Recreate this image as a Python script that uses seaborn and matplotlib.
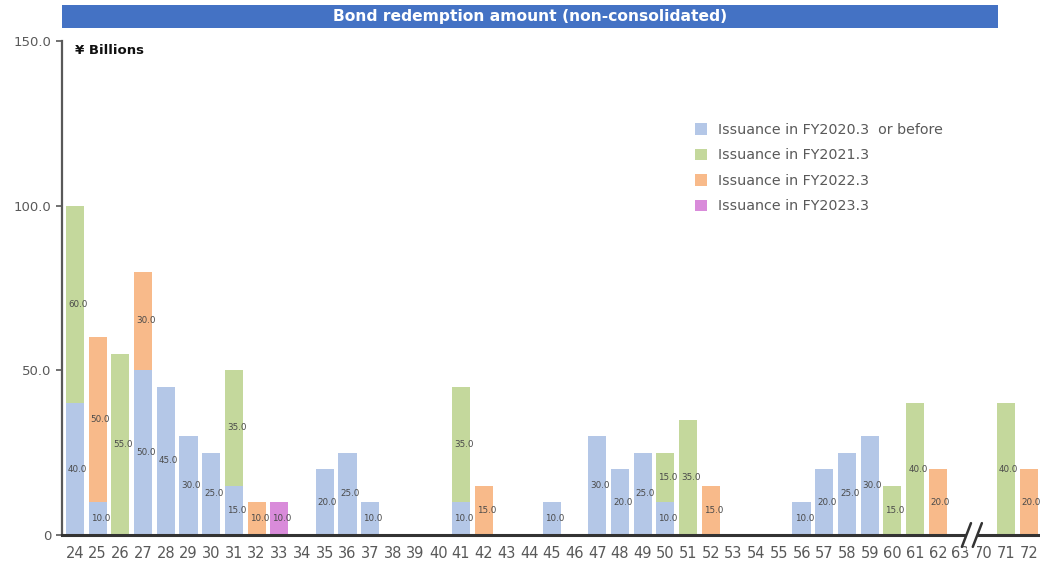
import numpy as np
import pandas as pd
import matplotlib
matplotlib.use("Agg")
import matplotlib.pyplot as plt
import matplotlib.patches as mpatches
from matplotlib.lines import Line2D
import seaborn as sns

years = ["24","25","26","27","28","29","30","31","32","33","34","35","36","37","38","39","40",
         "41","42","43","44","45","46","47","48","49","50","51","52","53","54","55","56","57",
         "58","59","60","61","62","63","70","71","72"]
fy2020 = [40,10,0,50,45,30,25,15,0,0,0,20,25,10,0,0,0,
          10,0,0,0,10,0,30,20,25,10,0,0,0,0,0,10,20,
          25,30,0,0,0,0,0,0,0]
fy2021 = [60,0,55,0,0,0,0,35,0,0,0,0,0,0,0,0,0,
          35,0,0,0,0,0,0,0,0,15,35,0,0,0,0,0,0,
          0,0,15,40,0,0,0,40,0]
fy2022 = [0,50,0,30,0,0,0,0,10,0,0,0,0,0,0,0,0,
          0,15,0,0,0,0,0,0,0,0,0,15,0,0,0,0,0,
          0,0,0,0,20,0,0,0,20]
fy2023 = [0,0,0,0,0,0,0,0,0,10,0,0,0,0,0,0,0,
          0,0,0,0,0,0,0,0,0,0,0,0,0,0,0,0,0,
          0,0,0,0,0,0,0,0,0]
series_names = ["Issuance in FY2020.3  or before", "Issuance in FY2021.3",
                "Issuance in FY2022.3", "Issuance in FY2023.3"]
colors = ["#B4C7E7", "#C4D89C", "#F8BA8A", "#D98BDA"]
y_ticks = [0, 50, 100, 150]
y_tick_labels = ["0", "50.0", "100.0", "150.0"]

sns.set_theme(style="white")
plt.rcParams['font.family'] = ['DejaVu Sans']

fig = plt.figure(figsize=(10.4, 5.68), dpi=100)
ax = fig.add_axes([62/1040, 33/568, 1 - 62/1040, (535-41)/568])

series = [fy2020, fy2021, fy2022, fy2023]
arr = np.array(series, dtype=float)
cum = np.cumsum(arr, axis=0)
df = pd.DataFrame({"year": years})
# draw from top of stack down so lower segments overlay upper ones
for k in range(3, -1, -1):
    df["v"] = cum[k]
    sns.barplot(data=df, x="year", y="v", order=years, color=colors[k],
                width=0.8, saturation=1, ax=ax, edgecolor="none", linewidth=0)

# value labels
for k in range(4):
    bottoms = cum[k] - arr[k]
    for i, v in enumerate(arr[k]):
        if v > 0:
            ax.text(i + 0.12, bottoms[i] + v/2, f"{v:.1f}", ha="center", va="center",
                    fontsize=6.3, color="#4a4a4a")

ax.set_xlim(-0.57, 42.45)
ax.set_ylim(0, 150)
ax.set_xlabel("")
ax.set_ylabel("")
ax.set_yticks(y_ticks)
ax.set_yticklabels(y_tick_labels)
ax.set_xticks(range(len(years)))
ax.set_xticklabels(years)
ax.set_xticks(np.arange(len(years)) + 0.5, minor=True)
ax.tick_params(axis="x", which="major", length=0, pad=8, labelsize=10.5, labelcolor="#595959")
ax.tick_params(axis="x", which="minor", length=5, width=1.2, color="#333333", direction="out")
ax.tick_params(axis="y", which="major", length=4, width=1.2, color="#595959", direction="out",
               labelsize=9.5, labelcolor="#595959", left=True)
for s in ["top", "right"]:
    ax.spines[s].set_visible(False)
ax.spines["left"].set_color("#595959")
ax.spines["left"].set_linewidth(1.6)
ax.spines["bottom"].set_color("#333333")
ax.spines["bottom"].set_linewidth(2.2)
ax.grid(False)

# axis break between 63 and 70
trans = ax.get_xaxis_transform()
ax.add_patch(mpatches.Rectangle((39.28, -0.03), 0.44, 0.06, transform=trans,
                                facecolor="white", edgecolor="none", clip_on=False, zorder=5))
for xc in (39.26, 39.74):
    ax.add_line(Line2D([xc - 0.2, xc + 0.2], [-0.024, 0.024], transform=trans,
                       color="#333333", lw=1.8, clip_on=False, zorder=6))

# legend
handles = [mpatches.Patch(facecolor=c, edgecolor="none") for c in colors]
leg = fig.legend(handles, series_names, loc="upper left", bbox_to_anchor=(682/1040, 1 - 110/568),
                 frameon=False, fontsize=10.3, handlelength=0.85, handleheight=0.85,
                 handletextpad=0.75, labelspacing=0.8)
for t in leg.get_texts():
    t.set_color("#595959")

# title band
fig.patches.append(mpatches.Rectangle((62/1040, 1 - 28/568), (998-62)/1040, 23/568,
                                      transform=fig.transFigure, facecolor="#4472C4",
                                      edgecolor="none"))
fig.text(530/1040, 1 - 17/568, "Bond redemption amount (non-consolidated)", ha="center",
         va="center", color="white", fontsize=11.2, fontweight="bold")
fig.text(75/1040, 1 - 51/568, "¥ Billions", ha="left", va="center", color="#111111",
         fontsize=9.5, fontweight="bold")

fig.savefig("out.png", dpi=100)
